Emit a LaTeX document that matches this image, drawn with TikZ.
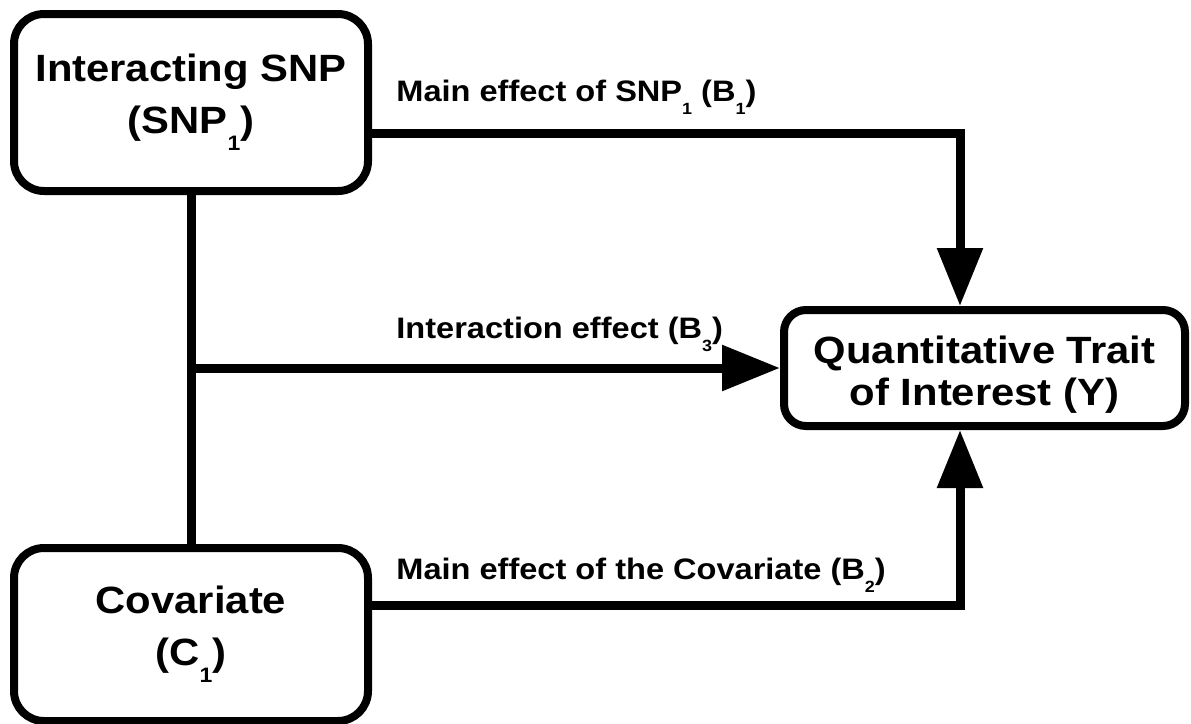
\documentclass[tikz,border=0pt]{standalone}
\usepackage{fontspec}
\setmainfont{Liberation Sans}[FakeStretch=1.1]
\usetikzlibrary{arrows.meta}

\newcommand{\lowidx}[1]{\raisebox{-0.45em}{\scalebox{0.55}{#1}}}

\tikzset{
  box/.style={draw, line width=4pt, rounded corners=15pt, align=center, inner sep=0pt,
    font=\fontsize{19}{26}\selectfont\bfseries},
  lbl/.style={inner sep=0pt, anchor=base west, font=\fontsize{14.8}{17}\selectfont\bfseries},
  link/.style={line width=4.5pt},
  conn/.style={link, -{Triangle[length=29pt,width=22pt]}},
}

\begin{document}
\begin{tikzpicture}[x=0.5pt,y=-0.5pt]
\useasboundingbox (0,0) rectangle (1191,724);

\node[box, minimum width=177pt, minimum height=88.5pt] (snp) at (191,102.5)
  {Interacting SNP\\(SNP\lowidx{1})};
\node[box, minimum width=177pt, minimum height=86.5pt] (cov) at (191,634.5)
  {Covariate\\(C\lowidx{1})};
\node[box, rounded corners=11pt, minimum width=200.5pt, minimum height=58pt,
  font=\fontsize{19}{21}\selectfont\bfseries] (qt) at (984.5,368)
  {\rule{0pt}{20pt}Quantitative Trait\\of Interest (Y)};

\coordinate (junction) at (snp.south |- qt.west);

\draw[link] (snp) -- (cov);
\draw[conn] ([yshift=-15.25pt]snp.east) -| ([xshift=-12.25pt]qt.north);
\draw[conn] (junction) -- (qt.west);
\draw[conn] ([yshift=14.75pt]cov.east) -| ([xshift=-12.25pt]qt.south);

\node[lbl] (b1) at (396,101) {Main effect of SNP\lowidx{1} (B\lowidx{1})};
\node[lbl] (b3) at (396,338) {Interaction effect (B\lowidx{3})};
\node[lbl] (b2) at (396,579) {Main effect of the Covariate (B\lowidx{2})};
\end{tikzpicture}
\end{document}
